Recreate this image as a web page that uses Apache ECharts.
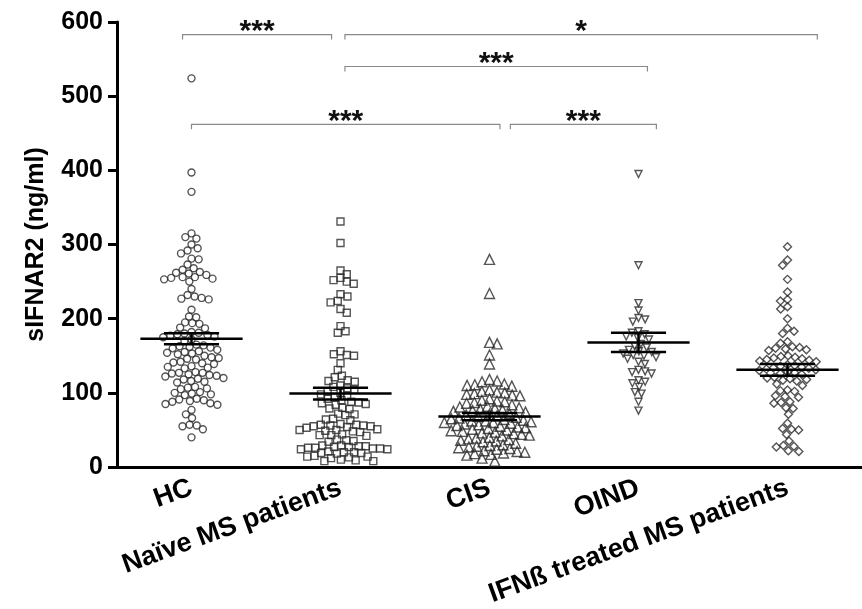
<!DOCTYPE html>
<html>
<head>
<meta charset="utf-8">
<script src="https://cdn.jsdelivr.net/npm/echarts@6/dist/echarts.min.js"></script>
<style>
  html, body { margin: 0; padding: 0; background: #fff; }
  #main { width: 862px; height: 609px; }
</style>
</head>
<body>
<div id="main"></div>
<script>
var categories = ['HC', 'Naïve MS patients', 'CIS', 'OIND', 'IFNß treated MS patients'];
var yTicks = [0, 100, 200, 300, 400, 500, 600];

var hcValues = [524, 397, 371, 315, 310, 308, 300, 295, 292, 288, 281, 280, 273, 268, 266, 263, 262, 261, 259,
  256, 256, 255, 254, 253, 250, 240, 232, 230, 228, 226, 227, 212, 203, 202, 195, 194, 193, 188, 187, 182, 181,
  180, 179, 178, 177, 176, 175, 172, 170, 165, 164, 163, 162, 161, 160, 158, 156, 155, 154, 153, 152, 150, 148,
  147, 146, 145, 142, 141, 140, 139, 136, 135, 134, 133, 128, 127, 127, 126, 125, 124, 123, 122, 120, 119, 118,
  116, 115, 114, 108, 107, 106, 105, 101, 100, 99, 98, 97, 92, 91, 90, 89, 88, 86, 85, 84, 77, 71, 66, 57, 56,
  55, 51, 40];
var naiveValues = [331, 302, 265, 260, 255, 252, 250, 247, 233, 230, 224, 222, 213, 208, 190, 183, 181, 156, 152,
  151, 150, 140, 131, 123, 121, 117, 116, 115, 110, 108, 106, 104, 102, 100, 98, 96, 94, 92, 90, 88, 87, 86, 85,
  84, 80, 79, 78, 72, 71, 70, 65, 64, 63, 58, 57, 57, 56, 56, 55, 55, 54, 53, 51, 50, 50, 49, 48, 47, 44, 43, 43,
  42, 37, 36, 35, 34, 29, 29, 28, 28, 27, 27, 26, 26, 25, 25, 24, 24, 21, 20, 20, 19, 19, 18, 15, 14, 14, 13, 12,
  10, 9, 8, 8];
var cisValues = [280, 234, 168, 166, 151, 139, 118, 116, 115, 112, 111, 110, 109, 104, 102, 101, 100, 99, 98, 97,
  96, 92, 90, 89, 88, 87, 86, 84, 82, 81, 80, 79, 78, 77, 76, 75, 74, 72, 71, 70, 69, 68, 67, 66, 65, 64, 63, 62,
  62, 61, 60, 60, 59, 58, 57, 56, 55, 54, 53, 52, 51, 50, 49, 48, 47, 46, 45, 44, 43, 42, 40, 39, 38, 37, 36, 35,
  34, 32, 30, 29, 28, 27, 26, 25, 24, 22, 21, 20, 19, 18, 17, 16, 12, 8];
var oindValues = [395, 272, 221, 211, 201, 199, 196, 183, 181, 179, 176, 174, 172, 166, 163, 161, 158, 156, 155,
  153, 151, 150, 148, 146, 142, 139, 131, 129, 128, 126, 117, 115, 113, 108, 101, 99, 88, 76];
var ifnValues = [297, 279, 272, 253, 236, 226, 224, 216, 213, 200, 187, 183, 180, 169, 167, 162, 161, 160, 159,
  158, 157, 150, 149, 148, 147, 146, 145, 144, 143, 142, 138, 137, 136, 135, 134, 133, 132, 131, 130, 128, 127,
  126, 125, 121, 120, 119, 118, 117, 116, 112, 110, 104, 103, 102, 96, 95, 94, 88, 87, 86, 80, 79, 71, 59, 52,
  51, 50, 44, 35, 29, 28, 27, 22, 21];

// mean +/- SEM
var groupMeans = [173, 99, 68, 168, 131];
var groupSem = [7.5, 8, 5, 13, 8];

// significance brackets
var sigFrom = [0, 1, 1, 0, 2];
var sigTo = [1, 4, 3, 2, 3];
var sigLevel = [583, 583, 540, 462, 462];
var sigStars = ['***', '*', '***', '***', '***'];

var groups = [hcValues, naiveValues, cisValues, oindValues, ifnValues];
var symbols = ['circle', 'rect', 'triangle', 'triangle', 'diamond'];
var symbolRot = [0, 0, 0, 180, 0];
var symbolSizes = [7, 7, 10, 7, 8];
var gaps = [7.2, 7.3, 7.8, 6.8, 7.2];
var bracketEnds = [[-0.06, 0.94], [1.03, 4.2], [1.03, 3.06], [0.0, 2.07], [2.14, 3.12]];

var FONT = '"Liberation Sans", Arial, sans-serif';
var PX_PER_VAL = 451 / 600;
var CAT_W = 745 / 5;

// simple beeswarm: put every point as close to the centre as it can go without overlap
function swarm(values, gap) {
  var sorted = values.slice().sort(function (a, b) { return b - a; });
  var placed = [];
  sorted.forEach(function (v, n) {
    var y = v * PX_PER_VAL;
    var cands = [0];
    placed.forEach(function (p) {
      var dy = Math.abs(p.y - y);
      if (dy < gap) {
        var dx = Math.sqrt(gap * gap - dy * dy);
        cands.push(p.x + dx, p.x - dx);
      }
    });
    var best = null;
    cands.forEach(function (c) {
      var ok = placed.every(function (p) {
        var dx = p.x - c, dy = p.y - y;
        return dx * dx + dy * dy >= gap * gap - 0.01;
      });
      if (!ok) return;
      if (best === null || Math.abs(c) < Math.abs(best) - 0.01) best = c;
      else if (Math.abs(Math.abs(c) - Math.abs(best)) <= 0.01 && (n % 2 === 0 ? c < best : c > best)) best = c;
    });
    placed.push({ x: best, y: y, v: v });
  });
  return placed;
}

var chart = echarts.init(document.getElementById('main'));

var series = groups.map(function (vals, i) {
  return {
    type: 'scatter',
    xAxisIndex: 1,
    symbol: symbols[i],
    symbolRotate: symbolRot[i],
    symbolSize: symbolSizes[i],
    itemStyle: { color: 'rgba(255,255,255,0)', borderColor: '#2a2a2a', borderWidth: 1.4 },
    data: swarm(vals, gaps[i]).map(function (p) { return [i + p.x / CAT_W, p.v]; }),
    z: 2
  };
});

series.push({
  type: 'custom',
  xAxisIndex: 1,
  z: 5,
  data: groupMeans.map(function (m, i) { return [i, m, m - groupSem[i], m + groupSem[i]]; }),
  renderItem: function (params, api) {
    var x = api.value(0);
    var w = api.size([1, 0])[0];
    var pm = api.coord([x, api.value(1)]);
    var plo = api.coord([x, api.value(2)]);
    var phi = api.coord([x, api.value(3)]);
    var st = { stroke: '#000', lineWidth: 2.5 };
    return {
      type: 'group',
      children: [
        { type: 'line', shape: { x1: pm[0] - w * 0.343, y1: pm[1], x2: pm[0] + w * 0.343, y2: pm[1] }, style: st },
        { type: 'line', shape: { x1: pm[0], y1: plo[1], x2: pm[0], y2: phi[1] }, style: st },
        { type: 'line', shape: { x1: pm[0] - w * 0.185, y1: plo[1], x2: pm[0] + w * 0.185, y2: plo[1] }, style: st },
        { type: 'line', shape: { x1: pm[0] - w * 0.185, y1: phi[1], x2: pm[0] + w * 0.185, y2: phi[1] }, style: st }
      ]
    };
  }
});

series.push({
  type: 'custom',
  xAxisIndex: 1,
  z: 4,
  data: sigLevel.map(function (lv, i) { return [bracketEnds[i][0], bracketEnds[i][1], lv, i]; }),
  renderItem: function (params, api) {
    var a = api.coord([api.value(0), api.value(2)]);
    var b = api.coord([api.value(1), api.value(2)]);
    var label = sigStars[api.value(3)];
    return {
      type: 'group',
      children: [
        {
          type: 'polyline',
          shape: { points: [[a[0], a[1] + 5], [a[0], a[1]], [b[0], b[1]], [b[0], b[1] + 5]] },
          style: { stroke: '#8a8a8a', lineWidth: 1.2, fill: null }
        },
        {
          type: 'text',
          style: {
            text: label, x: (a[0] + b[0]) / 2, y: a[1] - 3,
            align: 'center', verticalAlign: 'middle',
            font: 'bold 30px ' + FONT, fill: '#111'
          }
        }
      ]
    };
  }
});

chart.setOption({
  animation: false,
  backgroundColor: '#fff',
  grid: { left: 117, right: 0, top: 22, bottom: 136 },
  xAxis: [{
    type: 'category',
    data: categories,
    axisLine: { lineStyle: { color: '#000', width: 3 } },
    axisTick: { alignWithLabel: true, length: 7, lineStyle: { color: '#000', width: 3 } },
    axisLabel: {
      rotate: 20, margin: 20, color: '#000', fontWeight: 'bold', fontSize: 27, fontFamily: FONT,
      interval: 0
    },
    splitLine: { show: false }
  }, {
    type: 'value', min: -0.5, max: 4.5, show: false
  }],
  yAxis: {
    type: 'value',
    min: yTicks[0],
    max: yTicks[yTicks.length - 1],
    interval: yTicks[1] - yTicks[0],
    name: 'sIFNAR2 (ng/ml)',
    nameLocation: 'middle',
    nameGap: 68,
    nameTextStyle: { color: '#000', fontWeight: 'bold', fontSize: 25, fontFamily: FONT },
    axisLine: { show: true, onZero: false, lineStyle: { color: '#000', width: 3 } },
    axisTick: { show: true, length: 9, lineStyle: { color: '#000', width: 3 } },
    axisLabel: { margin: 14, color: '#000', fontWeight: 'bold', fontSize: 25, fontFamily: FONT },
    splitLine: { show: false }
  },
  series: series
});
</script>
</body>
</html>
